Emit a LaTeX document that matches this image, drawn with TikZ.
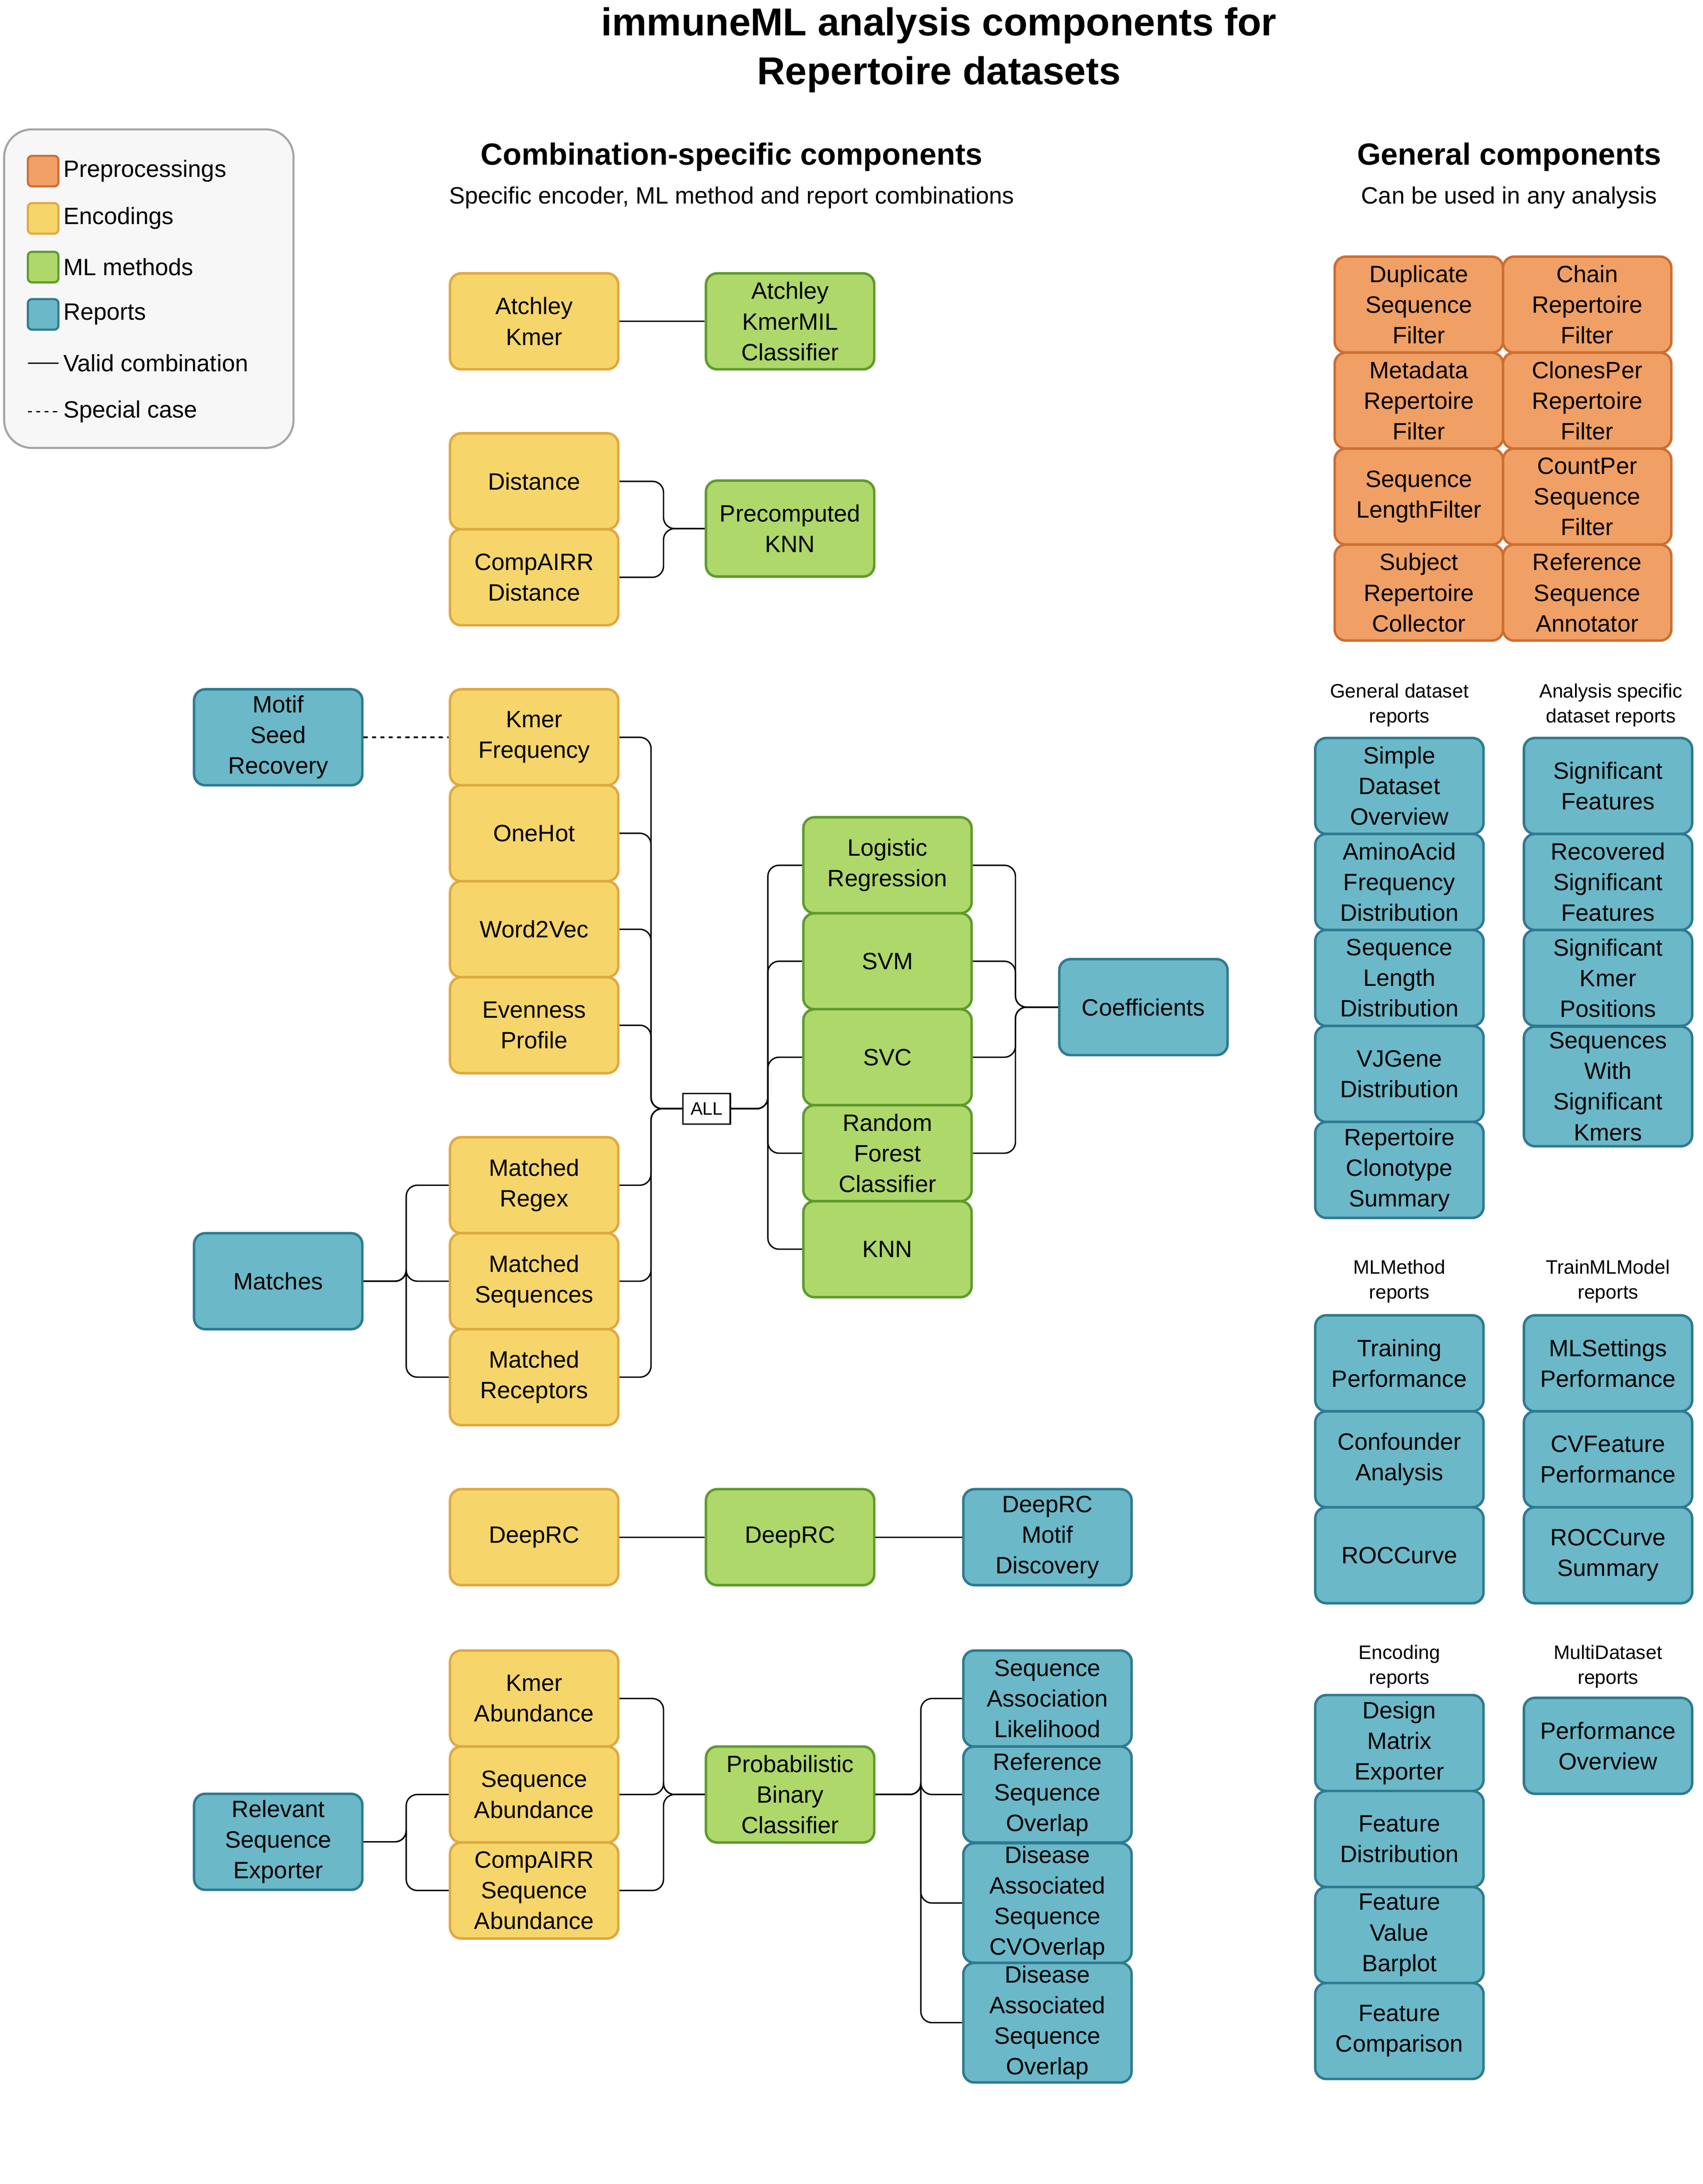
\documentclass[tikz,border=0pt]{standalone}
\usepackage{fontspec}
\setmainfont{Liberation Sans}
\begin{document}
\begin{tikzpicture}[x=1pt,y=-1pt,
 box/.style={draw,rounded corners=8pt,line width=1.8pt,minimum width=121pt,minimum height=69pt,inner sep=0pt,align=center,font=\fontsize{17}{22}\selectfont},
 pre/.style={box,fill=orange!70!white!95!red,draw=orange!70!black,fill={rgb,255:red,240;green,160;blue,100},draw={rgb,255:red,205;green,110;blue,50}},
 enc/.style={box,fill={rgb,255:red,246;green,214;blue,106},draw={rgb,255:red,224;green,168;blue,64}},
 mlm/.style={box,fill={rgb,255:red,174;green,216;blue,106},draw={rgb,255:red,94;green,154;blue,46}},
 rep/.style={box,fill={rgb,255:red,107;green,184;blue,200},draw={rgb,255:red,46;green,122;blue,146}},
 con/.style={line width=1pt,rounded corners=8pt},
 hdr/.style={align=center,font=\fontsize{14}{18}\selectfont},
 leg/.style={anchor=west,font=\fontsize{17}{22}\selectfont},
 sq/.style={draw,rounded corners=3pt,line width=1.5pt,minimum size=22pt,inner sep=0pt}]
\useasboundingbox (0,0) rectangle (1224,1570);
% titles
\node[font=\bfseries\fontsize{28}{35}\selectfont,align=center] (title) at (675,36) {immuneML analysis components for\\Repertoire datasets};
\node[font=\bfseries\fontsize{22}{26}\selectfont] (h1) at (526,113) {Combination-specific components};
\node[font=\fontsize{17}{22}\selectfont] (s1) at (526,142) {Specific encoder, ML method and report combinations};
\node[font=\bfseries\fontsize{22}{26}\selectfont] (h2) at (1085,113) {General components};
\node[font=\fontsize{17}{22}\selectfont] (s2) at (1085,142) {Can be used in any analysis};
% legend
\draw[rounded corners=20pt,line width=1.5pt,draw=black!35,fill=black!3] (3,93) rectangle (211,322);
\node[sq,fill={rgb,255:red,240;green,160;blue,100},draw={rgb,255:red,205;green,110;blue,50}] (l1) at (31,123) {};
\node[sq,fill={rgb,255:red,246;green,214;blue,106},draw={rgb,255:red,224;green,168;blue,64}] (l2) at (31,157) {};
\node[sq,fill={rgb,255:red,174;green,216;blue,106},draw={rgb,255:red,94;green,154;blue,46}] (l3) at (31,192) {};
\node[sq,fill={rgb,255:red,107;green,184;blue,200},draw={rgb,255:red,46;green,122;blue,146}] (l4) at (31,226) {};
\node[leg] at (42,123) {Preprocessings};
\node[leg] at (42,157) {Encodings};
\node[leg] at (42,192) {ML methods};
\node[leg] at (42,226) {Reports};
\coordinate (la) at (20,261); \coordinate (lb) at (42,261);
\draw[line width=1pt] (la) -- (lb);
\node[leg] at (42,261) {Valid combination};
\coordinate (lc) at (20,296); \coordinate (ld) at (42,296);
\draw[line width=1pt,dashed] (lc) -- (ld);
\node[leg] at (42,296) {Special case};
% combination-specific
\node[enc] (ak) at (384,231) {Atchley\\Kmer};
\node[mlm] (akc) at (568,231) {Atchley\\KmerMIL\\Classifier};
\draw[con] (ak) -- (akc);
\node[enc] (dist) at (384,346) {Distance};
\node[enc] (cdist) at (384,415) {CompAIRR\\Distance};
\node[mlm] (pknn) at (568,380) {Precomputed\\KNN};
\draw[con] (dist.east) -- (477,346) |- (pknn.west);
\draw[con] (cdist.east) -- (477,415) |- (pknn.west);
\node[rep] (msr) at (200,530) {Motif\\Seed\\Recovery};
\node[enc] (kf) at (384,530) {Kmer\\Frequency};
\node[enc] (oh) at (384,599) {OneHot};
\node[enc] (w2v) at (384,668) {Word2Vec};
\node[enc] (ep) at (384,737) {Evenness\\Profile};
\node[enc] (mre) at (384,852) {Matched\\Regex};
\node[enc] (mse) at (384,921) {Matched\\Sequences};
\node[enc] (mrc) at (384,990) {Matched\\Receptors};
\node[rep] (mat) at (200,921) {Matches};
\draw[con,dashed] (msr) -- (kf);
\node[draw,line width=1pt,fill=white,minimum width=34pt,minimum height=22pt,inner sep=1pt,font=\fontsize{13}{15}\selectfont] (all) at (508,797) {ALL};
\foreach \n in {kf,oh,w2v,ep,mre,mse,mrc}{\draw[con] (\n.east) -| (468,797) -- (all.west);}
\foreach \n in {mre,mse,mrc}{\draw[con] (mat.east) -| (292,921) |- (\n.west);}
\node[mlm] (lr) at (638,622) {Logistic\\Regression};
\node[mlm] (svm) at (638,691) {SVM};
\node[mlm] (svc) at (638,760) {SVC};
\node[mlm] (rf) at (638,829) {Random\\Forest\\Classifier};
\node[mlm] (knn) at (638,898) {KNN};
\node[rep] (coef) at (822,724) {Coefficients};
\foreach \n in {lr,svm,svc,rf,knn}{\draw[con] (all.east) -| (552,797) |- (\n.west);}
\foreach \n in {lr,svm,svc,rf}{\draw[con] (\n.east) -| (730,724) -- (coef.west);}
\node[enc] (drce) at (384,1105) {DeepRC};
\node[mlm] (drcm) at (568,1105) {DeepRC};
\node[rep] (drcr) at (753,1105) {DeepRC\\Motif\\Discovery};
\draw[con] (drce) -- (drcm) -- (drcr);
\node[enc] (ka) at (384,1221) {Kmer\\Abundance};
\node[enc] (sa) at (384,1290) {Sequence\\Abundance};
\node[enc] (csa) at (384,1359) {CompAIRR\\Sequence\\Abundance};
\node[rep] (rse) at (200,1324) {Relevant\\Sequence\\Exporter};
\node[mlm] (pbc) at (568,1290) {Probabilistic\\Binary\\Classifier};
\foreach \n in {sa,csa}{\draw[con] (rse.east) -| (292,1324) |- (\n.west);}
\foreach \n in {ka,sa,csa}{\draw[con] (\n.east) -| (477,1290) -- (pbc.west);}
\node[rep] (sal) at (753,1221) {Sequence\\Association\\Likelihood};
\node[rep] (rso) at (753,1290) {Reference\\Sequence\\Overlap};
\node[rep,minimum height=86pt] (dcv) at (753,1368) {Disease\\Associated\\Sequence\\CVOverlap};
\node[rep,minimum height=86pt] (dso) at (753,1454) {Disease\\Associated\\Sequence\\Overlap};
\foreach \n in {sal,rso,dcv,dso}{\draw[con] (pbc.east) -| (662,1290) |- (\n.west);}
% general: preprocessing
\node[pre] (p1) at (1020,219) {Duplicate\\Sequence\\Filter};
\node[pre] (p2) at (1141,219) {Chain\\Repertoire\\Filter};
\node[pre] (p3) at (1020,288) {Metadata\\Repertoire\\Filter};
\node[pre] (p4) at (1141,288) {ClonesPer\\Repertoire\\Filter};
\node[pre] (p5) at (1020,357) {Sequence\\LengthFilter};
\node[pre] (p6) at (1141,357) {CountPer\\Sequence\\Filter};
\node[pre] (p7) at (1020,426) {Subject\\Repertoire\\Collector};
\node[pre] (p8) at (1141,426) {Reference\\Sequence\\Annotator};
% dataset reports
\node[hdr] (g1) at (1006,507) {General dataset\\reports};
\node[hdr] (g2) at (1158,507) {Analysis specific\\dataset reports};
\node[rep] (d1) at (1006,565) {Simple\\Dataset\\Overview};
\node[rep] (d2) at (1006,634) {AminoAcid\\Frequency\\Distribution};
\node[rep] (d3) at (1006,703) {Sequence\\Length\\Distribution};
\node[rep] (d4) at (1006,772) {VJGene\\Distribution};
\node[rep] (d5) at (1006,841) {Repertoire\\Clonotype\\Summary};
\node[rep] (a1) at (1156,565) {Significant\\Features};
\node[rep] (a2) at (1156,634) {Recovered\\Significant\\Features};
\node[rep] (a3) at (1156,703) {Significant\\Kmer\\Positions};
\node[rep,minimum height=86pt] (a4) at (1156,781) {Sequences\\With\\Significant\\Kmers};
\node[hdr] (g3) at (1006,921) {MLMethod\\reports};
\node[hdr] (g4) at (1156,921) {TrainMLModel\\reports};
\node[rep] (m1) at (1006,980) {Training\\Performance};
\node[rep] (m2) at (1006,1049) {Confounder\\Analysis};
\node[rep] (m3) at (1006,1118) {ROCCurve};
\node[rep] (t1) at (1156,980) {MLSettings\\Performance};
\node[rep] (t2) at (1156,1049) {CVFeature\\Performance};
\node[rep] (t3) at (1156,1118) {ROCCurve\\Summary};
\node[hdr] (g5) at (1006,1198) {Encoding\\reports};
\node[hdr] (g6) at (1156,1198) {MultiDataset\\reports};
\node[rep] (e1) at (1006,1253) {Design\\Matrix\\Exporter};
\node[rep] (e2) at (1006,1322) {Feature\\Distribution};
\node[rep] (e3) at (1006,1391) {Feature\\Value\\Barplot};
\node[rep] (e4) at (1006,1460) {Feature\\Comparison};
\node[rep] (md1) at (1156,1255) {Performance\\Overview};
\end{tikzpicture}
\end{document}
